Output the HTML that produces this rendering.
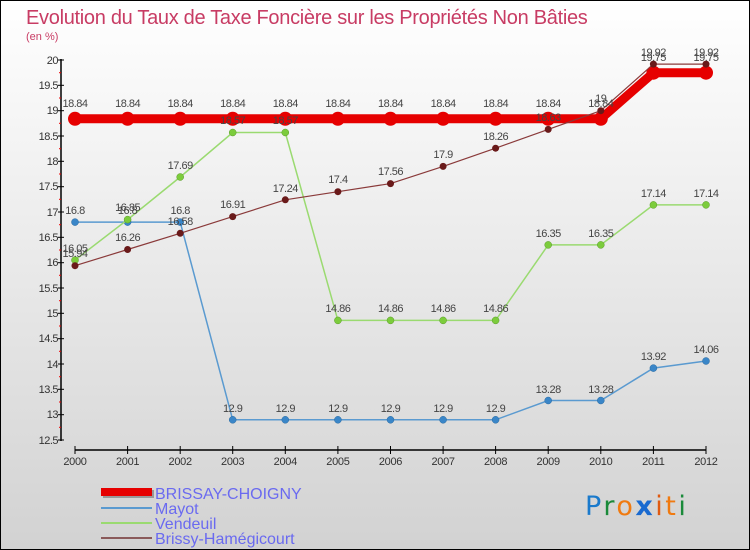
<!DOCTYPE html>
<html><head><meta charset="utf-8"><style>
html,body{margin:0;padding:0}
body{width:750px;height:550px;overflow:hidden}
svg{display:block;font-family:"Liberation Sans","DejaVu Sans",sans-serif}
.t{font-size:11px;fill:#444;text-anchor:middle;letter-spacing:-0.5px}
.yl{font-size:11px;fill:#333;text-anchor:end;letter-spacing:-0.5px}
.xl{font-size:11px;fill:#333;text-anchor:middle;letter-spacing:-0.3px}
.lg{font-size:16px;fill:#6a6af0}
</style></head><body>
<svg width="750" height="550" viewBox="0 0 750 550">
<defs><linearGradient id="bg" x1="0" y1="0" x2="0" y2="1"><stop offset="0" stop-color="#ffffff"/><stop offset="1" stop-color="#d2d2d2"/></linearGradient></defs>
<rect x="0.5" y="0.5" width="749" height="549" fill="url(#bg)" stroke="#000"/>
<text x="26" y="24" font-size="20" fill="#c83c64" style="letter-spacing:-0.3px">Evolution du Taux de Taxe Foncière sur les Propriétés Non Bâties</text>
<text x="26" y="40" font-size="11" fill="#c83c64">(en %)</text>
<g stroke="#000" stroke-width="1.5">
<line x1="61" y1="59" x2="61" y2="441"/>
<line x1="75" y1="450" x2="706" y2="450"/>
</g>
<g stroke="#000">
<line x1="58" y1="60" x2="64" y2="60"/><line x1="58" y1="85.3" x2="64" y2="85.3"/><line x1="58" y1="110.7" x2="64" y2="110.7"/><line x1="58" y1="136" x2="64" y2="136"/><line x1="58" y1="161.3" x2="64" y2="161.3"/><line x1="58" y1="186.7" x2="64" y2="186.7"/><line x1="58" y1="212" x2="64" y2="212"/><line x1="58" y1="237.3" x2="64" y2="237.3"/><line x1="58" y1="262.7" x2="64" y2="262.7"/><line x1="58" y1="288" x2="64" y2="288"/><line x1="58" y1="313.3" x2="64" y2="313.3"/><line x1="58" y1="338.7" x2="64" y2="338.7"/><line x1="58" y1="364" x2="64" y2="364"/><line x1="58" y1="389.3" x2="64" y2="389.3"/><line x1="58" y1="414.7" x2="64" y2="414.7"/><line x1="58" y1="440" x2="64" y2="440"/>
<line x1="75" y1="446" x2="75" y2="454"/><line x1="127.6" y1="446" x2="127.6" y2="454"/><line x1="180.2" y1="446" x2="180.2" y2="454"/><line x1="232.7" y1="446" x2="232.7" y2="454"/><line x1="285.3" y1="446" x2="285.3" y2="454"/><line x1="337.9" y1="446" x2="337.9" y2="454"/><line x1="390.5" y1="446" x2="390.5" y2="454"/><line x1="443.1" y1="446" x2="443.1" y2="454"/><line x1="495.6" y1="446" x2="495.6" y2="454"/><line x1="548.2" y1="446" x2="548.2" y2="454"/><line x1="600.8" y1="446" x2="600.8" y2="454"/><line x1="653.4" y1="446" x2="653.4" y2="454"/><line x1="706" y1="446" x2="706" y2="454"/>
</g>
<g stroke="#e00" stroke-width="1">
<line x1="59" y1="72.7" x2="61" y2="72.7"/><line x1="59" y1="98" x2="61" y2="98"/><line x1="59" y1="123.3" x2="61" y2="123.3"/><line x1="59" y1="148.7" x2="61" y2="148.7"/><line x1="59" y1="174" x2="61" y2="174"/><line x1="59" y1="199.3" x2="61" y2="199.3"/><line x1="59" y1="224.7" x2="61" y2="224.7"/><line x1="59" y1="250" x2="61" y2="250"/><line x1="59" y1="275.3" x2="61" y2="275.3"/><line x1="59" y1="300.7" x2="61" y2="300.7"/><line x1="59" y1="326" x2="61" y2="326"/><line x1="59" y1="351.3" x2="61" y2="351.3"/><line x1="59" y1="376.7" x2="61" y2="376.7"/><line x1="59" y1="402" x2="61" y2="402"/><line x1="59" y1="427.3" x2="61" y2="427.3"/>
</g>
<g class="yl">
<text x="58" y="64">20</text><text x="58" y="89">19.5</text><text x="58" y="114">19</text><text x="58" y="140">18.5</text><text x="58" y="165">18</text><text x="58" y="190">17.5</text><text x="58" y="216">17</text><text x="58" y="241">16.5</text><text x="58" y="266">16</text><text x="58" y="292">15.5</text><text x="58" y="317">15</text><text x="58" y="342">14.5</text><text x="58" y="368">14</text><text x="58" y="393">13.5</text><text x="58" y="418">13</text><text x="58" y="444">12.5</text>
</g>
<g class="xl">
<text x="75" y="465">2000</text><text x="127.6" y="465">2001</text><text x="180.2" y="465">2002</text><text x="232.7" y="465">2003</text><text x="285.3" y="465">2004</text><text x="337.9" y="465">2005</text><text x="390.5" y="465">2006</text><text x="443.1" y="465">2007</text><text x="495.6" y="465">2008</text><text x="548.2" y="465">2009</text><text x="600.8" y="465">2010</text><text x="653.4" y="465">2011</text><text x="706" y="465">2012</text>
</g>
<polyline fill="none" stroke="#e60000" stroke-width="9" stroke-linejoin="round" points="75,118.8 600.8,118.8 653.4,72.7 706,72.7"/>
<g fill="#e60000">
<circle cx="75" cy="118.8" r="7"/><circle cx="127.6" cy="118.8" r="7"/><circle cx="180.2" cy="118.8" r="7"/><circle cx="232.7" cy="118.8" r="7"/><circle cx="285.3" cy="118.8" r="7"/><circle cx="337.9" cy="118.8" r="7"/><circle cx="390.5" cy="118.8" r="7"/><circle cx="443.1" cy="118.8" r="7"/><circle cx="495.6" cy="118.8" r="7"/><circle cx="548.2" cy="118.8" r="7"/><circle cx="600.8" cy="118.8" r="7"/><circle cx="653.4" cy="72.7" r="7"/><circle cx="706" cy="72.7" r="7"/>
</g>
<polyline fill="none" stroke="#5a9ad0" stroke-width="1.5" points="75,222.1 127.6,222.1 180.2,222.1 232.7,419.8 285.3,419.8 337.9,419.8 390.5,419.8 443.1,419.8 495.6,419.8 548.2,400.5 600.8,400.5 653.4,368.1 706,361"/>
<g fill="#3a86c8" stroke="#2a6aa0" stroke-width="0.5">
<circle cx="75" cy="222.1" r="3.5"/><circle cx="127.6" cy="222.1" r="3.5"/><circle cx="180.2" cy="222.1" r="3.5"/><circle cx="232.7" cy="419.8" r="3.5"/><circle cx="285.3" cy="419.8" r="3.5"/><circle cx="337.9" cy="419.8" r="3.5"/><circle cx="390.5" cy="419.8" r="3.5"/><circle cx="443.1" cy="419.8" r="3.5"/><circle cx="495.6" cy="419.8" r="3.5"/><circle cx="548.2" cy="400.5" r="3.5"/><circle cx="600.8" cy="400.5" r="3.5"/><circle cx="653.4" cy="368.1" r="3.5"/><circle cx="706" cy="361" r="3.5"/>
</g>
<polyline fill="none" stroke="#9ada70" stroke-width="1.5" points="75,260.1 127.6,219.6 180.2,177 232.7,132.5 285.3,132.5 337.9,320.4 390.5,320.4 443.1,320.4 495.6,320.4 548.2,244.9 600.8,244.9 653.4,204.9 706,204.9"/>
<g fill="#7ccc3c" stroke="#5a9a2a" stroke-width="0.5">
<circle cx="75" cy="260.1" r="3.5"/><circle cx="127.6" cy="219.6" r="3.5"/><circle cx="180.2" cy="177" r="3.5"/><circle cx="232.7" cy="132.5" r="3.5"/><circle cx="285.3" cy="132.5" r="3.5"/><circle cx="337.9" cy="320.4" r="3.5"/><circle cx="390.5" cy="320.4" r="3.5"/><circle cx="443.1" cy="320.4" r="3.5"/><circle cx="495.6" cy="320.4" r="3.5"/><circle cx="548.2" cy="244.9" r="3.5"/><circle cx="600.8" cy="244.9" r="3.5"/><circle cx="653.4" cy="204.9" r="3.5"/><circle cx="706" cy="204.9" r="3.5"/>
</g>
<polyline fill="none" stroke="#8a3a3a" stroke-width="1.2" points="75,265.7 127.6,249.5 180.2,233.3 232.7,216.6 285.3,199.8 337.9,191.7 390.5,183.6 443.1,166.4 495.6,148.2 548.2,129.4 600.8,110.7 653.4,64.1 706,64.1"/>
<g fill="#6a1a1a">
<circle cx="75" cy="265.7" r="3.5"/><circle cx="127.6" cy="249.5" r="3.5"/><circle cx="180.2" cy="233.3" r="3.5"/><circle cx="232.7" cy="216.6" r="3.5"/><circle cx="285.3" cy="199.8" r="3.5"/><circle cx="337.9" cy="191.7" r="3.5"/><circle cx="390.5" cy="183.6" r="3.5"/><circle cx="443.1" cy="166.4" r="3.5"/><circle cx="495.6" cy="148.2" r="3.5"/><circle cx="548.2" cy="129.4" r="3.5"/><circle cx="600.8" cy="110.7" r="3.5"/><circle cx="653.4" cy="64.1" r="3.5"/><circle cx="706" cy="64.1" r="3.5"/>
</g>
<g class="t">
<text x="75" y="107">18.84</text><text x="127.6" y="107">18.84</text><text x="180.2" y="107">18.84</text><text x="232.7" y="107">18.84</text><text x="285.3" y="107">18.84</text><text x="337.9" y="107">18.84</text><text x="390.5" y="107">18.84</text><text x="443.1" y="107">18.84</text><text x="495.6" y="107">18.84</text><text x="548.2" y="107">18.84</text><text x="600.8" y="107">18.84</text><text x="653.4" y="61">19.75</text><text x="706" y="61">19.75</text>
<text x="75" y="214">16.8</text><text x="127.6" y="214">16.8</text><text x="180.2" y="214">16.8</text><text x="232.7" y="412">12.9</text><text x="285.3" y="412">12.9</text><text x="337.9" y="412">12.9</text><text x="390.5" y="412">12.9</text><text x="443.1" y="412">12.9</text><text x="495.6" y="412">12.9</text><text x="548.2" y="393">13.28</text><text x="600.8" y="393">13.28</text><text x="653.4" y="360">13.92</text><text x="706" y="353">14.06</text>
<text x="75" y="252">16.05</text><text x="127.6" y="211">16.85</text><text x="180.2" y="169">17.69</text><text x="232.7" y="124">18.57</text><text x="285.3" y="124">18.57</text><text x="337.9" y="312">14.86</text><text x="390.5" y="312">14.86</text><text x="443.1" y="312">14.86</text><text x="495.6" y="312">14.86</text><text x="548.2" y="237">16.35</text><text x="600.8" y="237">16.35</text><text x="653.4" y="197">17.14</text><text x="706" y="197">17.14</text>
<text x="75" y="257">15.94</text><text x="127.6" y="241">16.26</text><text x="180.2" y="225">16.58</text><text x="232.7" y="208">16.91</text><text x="285.3" y="192">17.24</text><text x="337.9" y="183">17.4</text><text x="390.5" y="175">17.56</text><text x="443.1" y="158">17.9</text><text x="495.6" y="140">18.26</text><text x="548.2" y="121">18.63</text><text x="600.8" y="102">19</text><text x="653.4" y="56">19.92</text><text x="706" y="56">19.92</text>
</g>
<rect x="103" y="490" width="51" height="8" fill="#999"/>
<rect x="101" y="488" width="51" height="8" fill="#e60000"/>
<line x1="101" y1="508" x2="152" y2="508" stroke="#5a9ad0" stroke-width="2"/>
<line x1="101" y1="523" x2="152" y2="523" stroke="#9ada70" stroke-width="2"/>
<line x1="101" y1="538" x2="152" y2="538" stroke="#8a5a5a" stroke-width="2"/>
<g class="lg">
<text x="155" y="499">BRISSAY-CHOIGNY</text><text x="155" y="514">Mayot</text><text x="155" y="529">Vendeuil</text><text x="155" y="544">Brissy-Hamégicourt</text>
</g>
<text x="585" y="515" font-family="DejaVu Sans, sans-serif" font-size="27" style="letter-spacing:2.5px"><tspan fill="#1a7acc">P</tspan><tspan fill="#1a8a3a">r</tspan><tspan fill="#f07a10">o</tspan><tspan fill="#1a6ad0" font-weight="bold">x</tspan><tspan fill="#e05a10">i</tspan><tspan fill="#f07a10">t</tspan><tspan fill="#1a8a3a">i</tspan></text>
</svg>
</body></html>
